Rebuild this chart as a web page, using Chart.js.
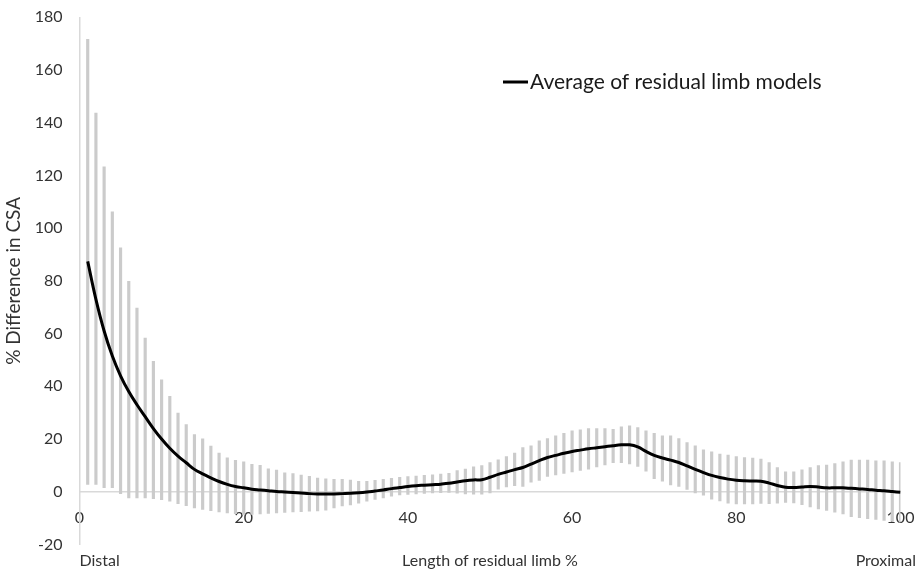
<!DOCTYPE html>
<html>
<head>
<meta charset="utf-8">
<script src="https://cdn.jsdelivr.net/npm/chart.js@4.4.0/dist/chart.umd.min.js"></script>
<style>
  html, body { margin: 0; padding: 0; background: #fff; }
  #wrap { width: 918px; height: 573px; position: relative; }
</style>
</head>
<body>
<div id="wrap"><canvas id="chart"></canvas></div>
<script>
// Position along the residual limb (%), one sample per percent
const positions = Array.from({ length: 100 }, (_, i) => i + 1);

// Average % difference in CSA (black line)
const meanValues = [
  87.4, 73, 61, 51.5, 44, 38, 33, 28.5, 24, 20,
  16.5, 13.5, 11, 8.5, 6.8, 5.3, 3.9, 2.8, 2.0, 1.5,
  1.0, 0.7, 0.4, 0.1, -0.1, -0.3, -0.5, -0.7, -0.8, -0.8,
  -0.8, -0.7, -0.6, -0.4, -0.1, 0.3, 0.7, 1.2, 1.6, 2.0,
  2.3, 2.5, 2.7, 2.9, 3.2, 3.7, 4.2, 4.5, 4.6, 5.5,
  6.6, 7.5, 8.4, 9.2, 10.5, 11.8, 13.0, 13.8, 14.6, 15.3,
  15.8, 16.3, 16.7, 17.1, 17.5, 17.8, 17.8, 17.0, 15.3, 13.8,
  12.8, 12.0, 11.1, 9.8, 8.5, 7.3, 6.2, 5.4, 4.8, 4.4,
  4.2, 4.1, 4.0, 3.3, 2.4, 1.7, 1.6, 1.8, 2.0, 1.8,
  1.5, 1.5, 1.5, 1.3, 1.1, 0.9, 0.6, 0.4, 0.1, -0.2
];

// Error bar ends (grey bars)
const upperValues = [
  171.6, 143.7, 123.3, 106.2, 92.5, 79.8, 69.7, 58.3, 49.5, 42.5,
  36.2, 29.9, 25.5, 21.7, 20.1, 17.3, 14.7, 12.9, 11.9, 11.4,
  10.4, 10.0, 8.7, 8.2, 7.2, 6.9, 6.3, 5.9, 5.2, 4.9,
  4.7, 4.7, 4.4, 4.0, 4.0, 4.3, 4.7, 5.1, 5.5, 5.8,
  6.0, 6.2, 6.4, 6.7, 7.0, 8.0, 8.6, 9.5, 9.9, 11.1,
  12.1, 13.4, 14.7, 16.8, 17.4, 19.3, 20.2, 21.2, 22.2, 23.1,
  23.5, 24.0, 24.0, 24.0, 23.7, 24.6, 25.0, 24.4, 23.1, 22.2,
  21.2, 21.2, 20.2, 18.7, 17.4, 15.9, 15.2, 14.3, 13.9, 13.4,
  13.0, 12.8, 12.4, 11.1, 9.2, 7.6, 7.6, 8.3, 9.2, 9.9,
  10.1, 10.7, 11.4, 12.0, 12.0, 12.0, 11.7, 11.7, 11.4, 11.1
];
const lowerValues = [
  2.8, 2.8, 1.6, 1.6, -0.7, -2.3, -2.3, -2.3, -2.6, -3.0,
  -3.6, -4.5, -5.3, -6.1, -6.7, -7.2, -7.6, -8.0, -8.3, -8.6,
  -8.6, -8.4, -8.2, -8.0, -7.8, -7.6, -7.5, -7.4, -7.3, -7.0,
  -6.1, -5.4, -5.0, -4.3, -3.6, -2.9, -2.3, -1.7, -1.2, -1.0,
  -0.8, -0.6, -0.4, -0.3, -0.2, -0.5, -0.8, -0.9, -0.9, -0.4,
  1.0, 1.8, 2.3, 2.0, 3.6, 4.3, 5.8, 6.4, 7.0, 7.5,
  8.1, 8.6, 9.4, 10.2, 11.0, 11.0, 10.6, 9.6, 7.8, 5.0,
  4.0, 2.6, 2.0, 0.9, -0.4, -1.3, -2.8, -3.5, -4.3, -4.6,
  -4.6, -4.6, -4.4, -4.5, -4.3, -4.0, -4.2, -4.9, -5.7, -6.5,
  -7.1, -7.7, -8.4, -9.4, -9.8, -10.2, -10.5, -10.9, -11.2, -11.5
];

const seriesLabel = 'Average of residual limb models';
const xTitle = 'Length of residual limb %';
const yTitle = '% Difference in CSA';
const leftEndLabel = 'Distal';
const rightEndLabel = 'Proximal';

const textColor = '#333333';
const axisColor = '#d9d9d9';
const fontFamily = 'Lato, "Liberation Sans", sans-serif';

// legend drawn inside the plot, plus the three labels under the axis
const annotations = {
  id: 'annotations',
  afterDraw(chart) {
    const { ctx, chartArea } = chart;
    ctx.save();
    // legend
    ctx.strokeStyle = '#000';
    ctx.lineWidth = 3;
    ctx.beginPath();
    ctx.moveTo(503, 82);
    ctx.lineTo(528, 82);
    ctx.stroke();
    ctx.fillStyle = '#1a1a1a';
    ctx.font = '21px ' + fontFamily;
    ctx.textBaseline = 'middle';
    ctx.textAlign = 'left';
    ctx.fillText(seriesLabel, 530, 82);
    // bottom labels
    ctx.fillStyle = textColor;
    ctx.font = '16px ' + fontFamily;
    const y = 561;
    ctx.textAlign = 'left';
    ctx.fillText(leftEndLabel, chartArea.left, y);
    ctx.textAlign = 'center';
    ctx.fillText(xTitle, (chartArea.left + chartArea.right) / 2, y);
    ctx.textAlign = 'right';
    ctx.fillText(rightEndLabel, 916, y);
    ctx.restore();
  }
};

new Chart(document.getElementById('chart'), {
  type: 'bar',
  data: {
    datasets: [
      {
        type: 'line',
        label: seriesLabel,
        data: positions.map((x, i) => ({ x, y: meanValues[i] })),
        borderColor: '#000',
        borderWidth: 3,
        pointRadius: 0,
        tension: 0.4,
        order: 0
      },
      {
        type: 'bar',
        label: 'SD',
        data: positions.map((x, i) => ({ x, y: [lowerValues[i], upperValues[i]] })),
        backgroundColor: '#cbcbcb',
        borderWidth: 0,
        barThickness: 2.5,
        order: 1
      }
    ]
  },
  options: {
    responsive: true,
    maintainAspectRatio: false,
    animation: false,
    layout: { padding: { left: 0, right: 17.5, top: 17.3, bottom: 28.5 } },
    plugins: {
      legend: { display: false },
      tooltip: { enabled: false }
    },
    scales: {
      x: {
        type: 'linear',
        position: { y: 0 },
        min: 0,
        max: 100,
        offset: false,
        grid: { display: false, drawTicks: false },
        border: { display: true, color: axisColor, width: 1.5 },
        afterFit(scale) {
          scale.paddingLeft = 0;
          scale.paddingRight = 0;
        },
        ticks: {
          stepSize: 20,
          maxRotation: 0,
          padding: 16,
          color: textColor,
          font: { family: fontFamily, size: 16 }
        }
      },
      y: {
        min: -20,
        max: 180,
        grid: { display: false, drawTicks: false },
        border: { display: true, color: axisColor, width: 1.5 },
        afterFit(scale) {
          scale.width = 79.5;
          scale.paddingTop = 0;
          scale.paddingBottom = 0;
        },
        ticks: {
          stepSize: 20,
          padding: 17,
          color: textColor,
          font: { family: fontFamily, size: 16 }
        },
        title: {
          display: true,
          text: yTitle,
          color: textColor,
          padding: { top: 2, bottom: 0 },
          font: { family: fontFamily, size: 19 }
        }
      }
    }
  },
  plugins: [annotations]
});
</script>
</body>
</html>
